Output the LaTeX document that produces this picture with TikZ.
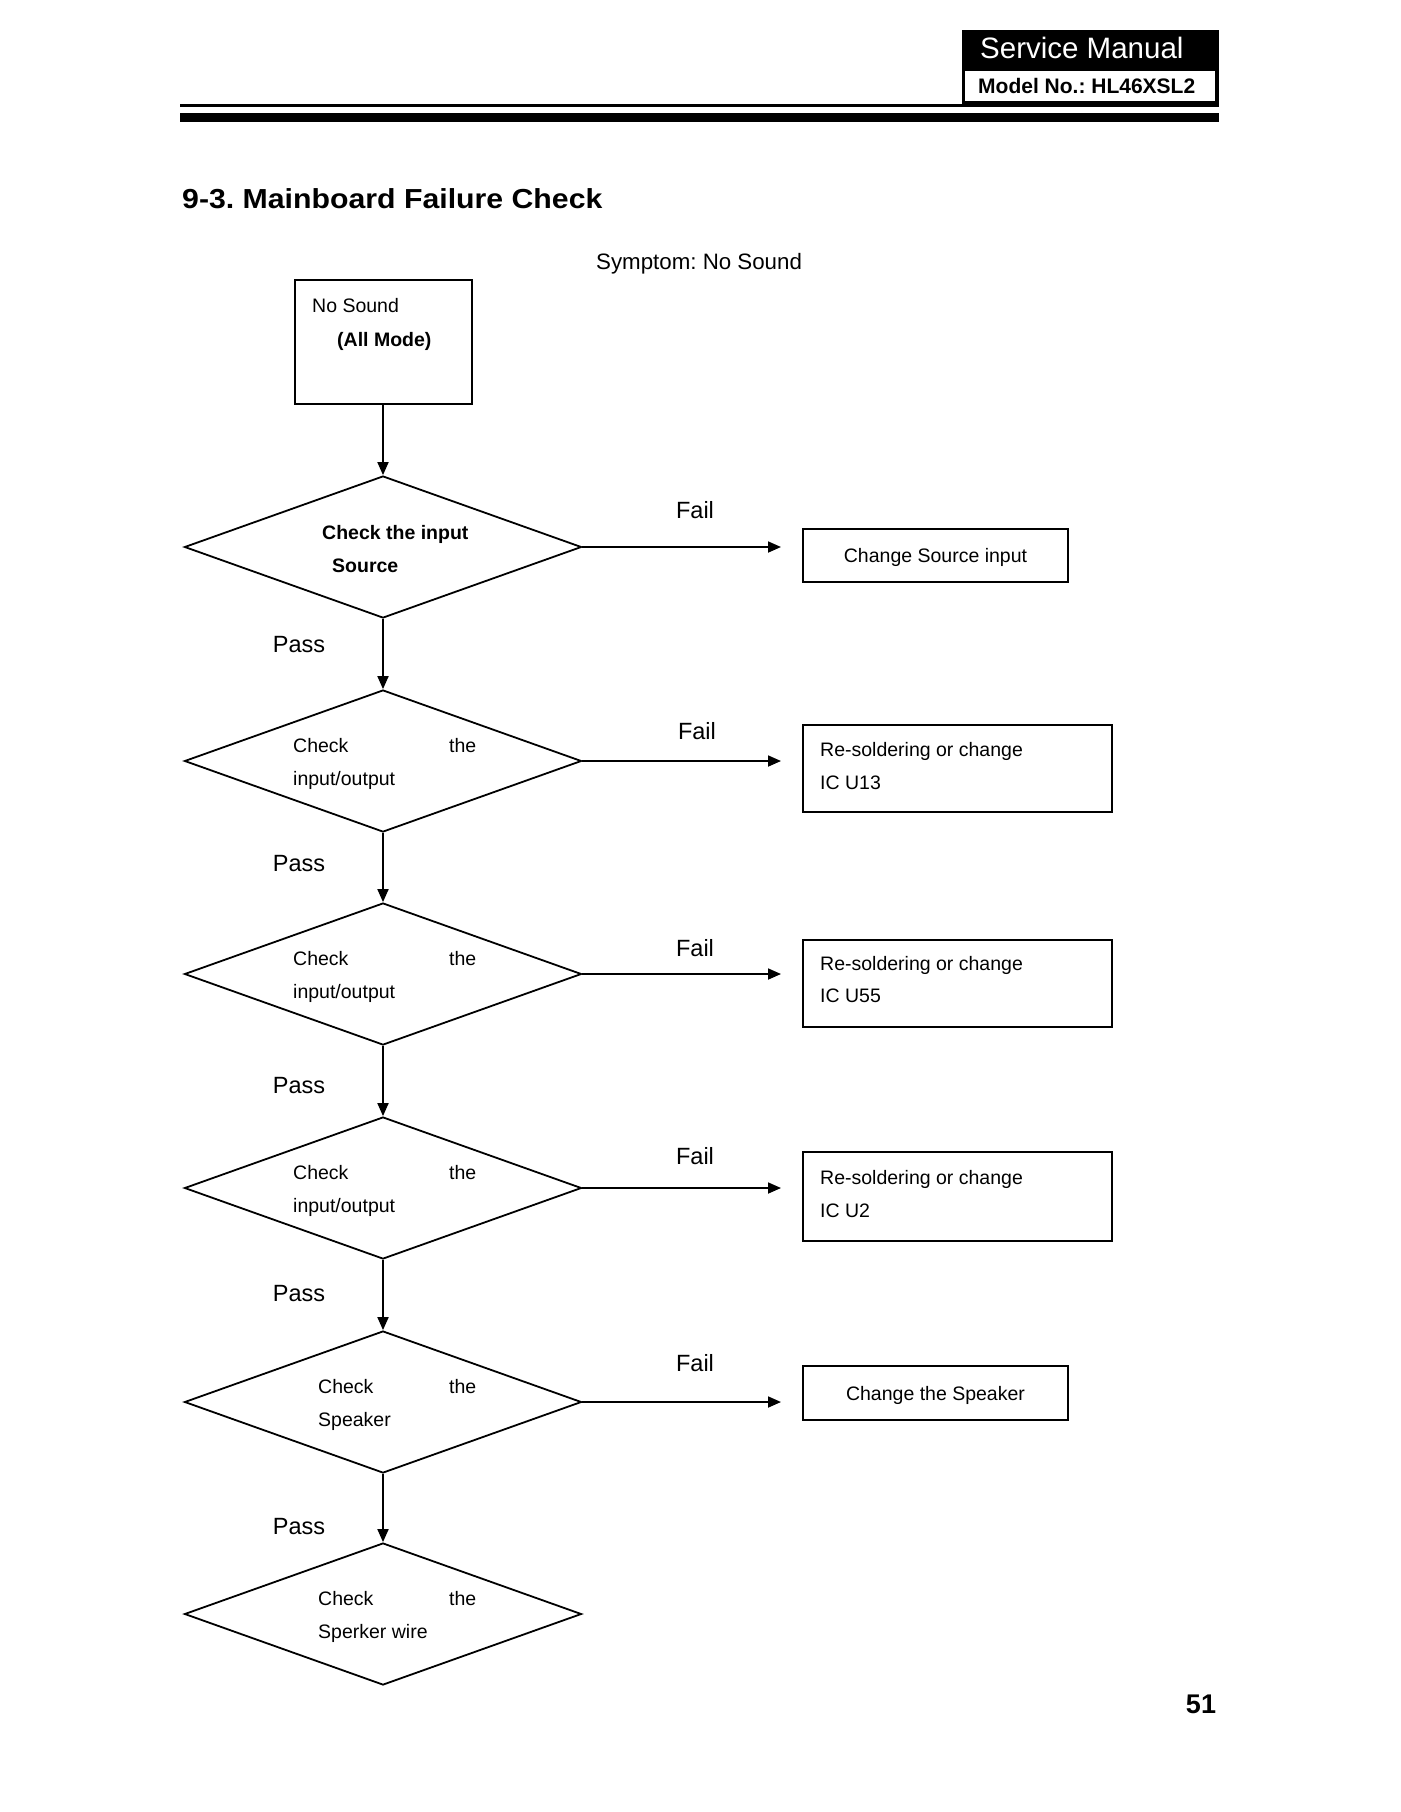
\documentclass[tikz,border=0pt]{standalone}
\usepackage{fontspec}
\setmainfont{Liberation Sans}
\usetikzlibrary{shapes.geometric,arrows.meta}
\frenchspacing
\begin{document}
\begin{tikzpicture}[x=1pt,y=-1pt,
 txt/.style={inner sep=0pt, font=\fontsize{19.5}{23}\selectfont, text height=14pt, text depth=0pt},
 btxt/.style={inner sep=0pt, font=\fontsize{19.5}{23}\selectfont\bfseries, text height=14pt, text depth=0pt},
 lbl/.style={inner sep=0pt, font=\fontsize{23.5}{28}\selectfont, text height=17pt, text depth=0pt},
 dia/.style={diamond, draw, line width=1.8pt, minimum width=397pt, minimum height=142pt, inner sep=0pt},
 box/.style={draw, line width=2pt, inner sep=0pt},
 arr/.style={line width=1.8pt, -{Triangle[length=13pt,width=11pt]}},
]
\useasboundingbox (0,0) rectangle (1400,1812);
% header
\fill (962,30) rectangle (1219,107);
\fill[white] (965,71) rectangle (1215,101);
\fill (180,104) rectangle (962,107);
\fill (180,113) rectangle (1219,122);
\node[anchor=west, inner sep=0pt, text=white, font=\fontsize{29.5}{34}\selectfont, text height=21pt, text depth=0pt] (sm) at (980,48) {Service Manual};
\node[anchor=west, inner sep=0pt, font=\fontsize{21}{25}\selectfont\bfseries, text height=15pt, text depth=0pt] (mn) at (978,86) {Model No.: HL46XSL2};
% title
\node[anchor=west, inner sep=0pt, font=\fontsize{27.5}{32}\selectfont\bfseries, text height=20pt, text depth=0pt] (title) at (182,198) {\scalebox{1.1}[1]{9-3. Mainboard Failure Check}};
\node[anchor=west, inner sep=0pt, font=\fontsize{22.3}{27}\selectfont, text height=16pt, text depth=0pt] (symp) at (596,261) {Symptom: No Sound};
% start box
\node[box, minimum width=177pt, minimum height=124pt] (b0) at (383,342) {};
\node[txt, anchor=west] (t0a) at (312,305) {No Sound};
\node[btxt, anchor=west] (t0b) at (337,339) {(All Mode)};
% diamonds
\node[dia] (d1) at (383,547) {};
\node[dia] (d2) at (383,761) {};
\node[dia] (d3) at (383,974) {};
\node[dia] (d4) at (383,1188) {};
\node[dia] (d5) at (383,1402) {};
\node[dia] (d6) at (383,1614) {};
% diamond texts
\node[btxt, anchor=west] (d1a) at (322,532) {Check the input};
\node[btxt, anchor=west] (d1b) at (332,565) {Source};
\node[txt, anchor=west] (d2a) at (293,745) {Check};
\node[txt, anchor=west] (d2b) at (449,745) {the};
\node[txt, anchor=west] (d2c) at (293,778) {input/output};
\node[txt, anchor=west] (d3a) at (293,958) {Check};
\node[txt, anchor=west] (d3b) at (449,958) {the};
\node[txt, anchor=west] (d3c) at (293,991) {input/output};
\node[txt, anchor=west] (d4a) at (293,1172) {Check};
\node[txt, anchor=west] (d4b) at (449,1172) {the};
\node[txt, anchor=west] (d4c) at (293,1205) {input/output};
\node[txt, anchor=west] (d5a) at (318,1386) {Check};
\node[txt, anchor=west] (d5b) at (449,1386) {the};
\node[txt, anchor=west] (d5c) at (318,1419) {Speaker};
\node[txt, anchor=west] (d6a) at (318,1598) {Check};
\node[txt, anchor=west] (d6b) at (449,1598) {the};
\node[txt, anchor=west] (d6c) at (318,1631) {Sperker wire};
% result boxes
\node[box, txt, minimum width=265pt, minimum height=53pt] (b1) at (935.5,555.5) {Change Source input};
\node[box, minimum width=309pt, minimum height=87pt] (b2) at (957.5,768.5) {};
\node[box, minimum width=309pt, minimum height=87pt] (b3) at (957.5,983.5) {};
\node[box, minimum width=309pt, minimum height=89pt] (b4) at (957.5,1196.5) {};
\node[box, txt, minimum width=265pt, minimum height=54pt] (b5) at (935.5,1393) {Change the Speaker};
\node[txt, anchor=west] (b2a) at (820,749) {Re-soldering or change};
\node[txt, anchor=west] (b2b) at (820,782) {IC U13};
\node[txt, anchor=west] (b3a) at (820,963) {Re-soldering or change};
\node[txt, anchor=west] (b3b) at (820,995) {IC U55};
\node[txt, anchor=west] (b4a) at (820,1177) {Re-soldering or change};
\node[txt, anchor=west] (b4b) at (820,1210) {IC U2};
% vertical arrows
\draw[arr] (b0.south) -- (d1.north);
\draw[arr] (d1.south) -- (d2.north);
\draw[arr] (d2.south) -- (d3.north);
\draw[arr] (d3.south) -- (d4.north);
\draw[arr] (d4.south) -- (d5.north);
\draw[arr] (d5.south) -- (d6.north);
% fail arrows
\draw[arr, shorten >=21pt] (d1.east) -- (d1.east -| b1.west);
\draw[arr, shorten >=21pt] (d2.east) -- (d2.east -| b2.west);
\draw[arr, shorten >=21pt] (d3.east) -- (d3.east -| b3.west);
\draw[arr, shorten >=21pt] (d4.east) -- (d4.east -| b4.west);
\draw[arr, shorten >=21pt] (d5.east) -- (d5.east -| b5.west);
% labels
\node[lbl] (f1) at (695,510) {Fail};
\node[lbl] (f2) at (697,731) {Fail};
\node[lbl] (f3) at (695,948) {Fail};
\node[lbl] (f4) at (695,1156) {Fail};
\node[lbl] (f5) at (695,1363) {Fail};
\node[lbl] (p1) at (299,644) {Pass};
\node[lbl] (p2) at (299,863) {Pass};
\node[lbl] (p3) at (299,1085) {Pass};
\node[lbl] (p4) at (299,1293) {Pass};
\node[lbl] (p5) at (299,1526) {Pass};
% page number
\node[inner sep=0pt, font=\fontsize{27}{32}\selectfont\bfseries, text height=19pt, text depth=0pt] (pg) at (1201,1704) {51};
\end{tikzpicture}
\end{document}
